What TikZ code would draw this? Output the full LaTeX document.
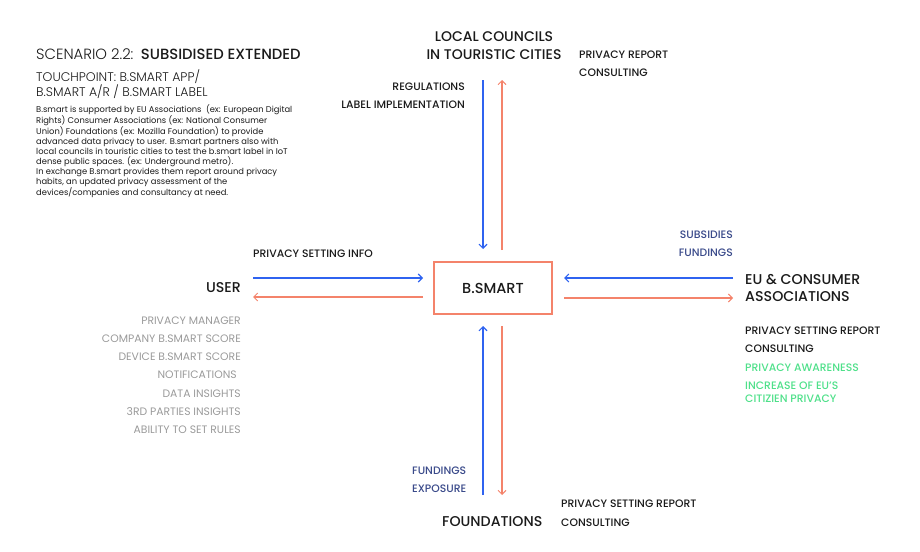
\documentclass[tikz,border=0pt]{standalone}
\usepackage{fontspec}
\setmainfont{Poppins}
\newfontfamily\pmed{Poppins Medium}
\newfontfamily\plight{Poppins Light}
\usetikzlibrary{arrows.meta}
\definecolor{cblue}{HTML}{2F63F0}
\definecolor{cred}{HTML}{F4836B}
\definecolor{cnavy}{HTML}{3A4A8A}
\definecolor{cgreen}{HTML}{4FE08A}
\definecolor{cgray}{HTML}{9A9A9A}
\definecolor{ctext}{HTML}{1A1A1A}
\tikzset{
  lbl/.style={inner sep=0pt, font=\pmed\fontsize{10.8}{12}\selectfont, text=ctext},
  head/.style={inner sep=0pt, font=\pmed\fontsize{14.2}{17}\selectfont, text=ctext},
  graylbl/.style={inner sep=0pt, font=\fontsize{10.8}{12}\selectfont, text=cgray, anchor=east},
  barr/.style={draw=cblue, line width=1.3pt, -{Straight Barb[length=4pt,width=8pt,line width=1.1pt]}},
  rarr/.style={draw=cred, line width=1.1pt, -{Straight Barb[length=4pt,width=8pt,line width=1pt]}},
}
\begin{document}
\begin{tikzpicture}[x=1pt,y=-1pt]
\useasboundingbox (0,0) rectangle (920,551);
% title block
\node[inner sep=0pt, anchor=west, text=ctext, font=\fontsize{14.8}{17}\selectfont] (title) at (36,54) {\plight SCENARIO 2.2:\enspace\pmed SUBSIDISED EXTENDED};
\node[inner sep=0pt, anchor=north west, align=left, text=ctext, font=\plight\fontsize{12.5}{15}\selectfont] (touch) at (36,69.5) {TOUCHPOINT: B.SMART APP/\\B.SMART A/R / B.SMART LABEL};
\node[inner sep=0pt, anchor=north west, align=left, text=ctext, font=\fontsize{8.35}{10}\selectfont] (para) at (36,104) {B.smart is supported by EU Associations\ \ (ex: European Digital\\Rights) Consumer Associations (ex: National Consumer\\Union) Foundations (ex: Mozilla Foundation) to provide\\advanced data privacy to user. B.smart partners also with\\local councils in touristic cities to test the b.smart label in IoT\\dense public spaces. (ex: Underground metro).\\In exchange B.smart provides them report around privacy\\habits, an updated privacy assessment of the\\devices/companies and consultancy at need.};
% central box
\node[draw=cred, line width=1.1pt, minimum width=118pt, minimum height=52pt, inner sep=0pt, font=\pmed\fontsize{14.5}{16}\selectfont, text=ctext] (bs) at (493,288) {B.SMART};
% top
\node[head, align=center, font=\pmed\fontsize{14}{18}\selectfont] (lc) at (494,46) {LOCAL COUNCILS\\IN TOURISTIC CITIES};
\node[lbl, anchor=west] (pr) at (579,55) {PRIVACY REPORT};
\node[lbl, anchor=west] (cons1) at (579,73) {CONSULTING};
\node[lbl, anchor=east] (reg) at (465,87) {REGULATIONS};
\node[lbl, anchor=east] (limp) at (465,105) {LABEL IMPLEMENTATION};
\coordinate (t1) at (483,80);
\coordinate (t2) at (502,80);
\coordinate (t1e) at (483,249);
\coordinate (t2e) at (502,250);
\draw[barr] (t1) -- (t1e);
\draw[rarr] (t2e) -- (t2);
% left
\node[head, anchor=east] (user) at (241,288) {USER};
\node[lbl, anchor=west] (psi) at (253,254) {PRIVACY SETTING INFO};
\coordinate (l1) at (253,278);
\coordinate (l2) at (253,297);
\coordinate (l1e) at (423,278);
\coordinate (l2e) at (423,297);
\draw[barr] (l1) -- (l1e);
\draw[rarr] (l2e) -- (l2);
\node[graylbl] (g1) at (241,321) {PRIVACY MANAGER};
\node[graylbl] (g2) at (241,339) {COMPANY B.SMART SCORE};
\node[graylbl] (g3) at (241,357) {DEVICE B.SMART SCORE};
\node[graylbl] (g4) at (237,375) {NOTIFICATIONS};
\node[graylbl] (g5) at (241,394) {DATA INSIGHTS};
\node[graylbl] (g6) at (241,412) {3RD PARTIES INSIGHTS};
\node[graylbl] (g7) at (241,430) {ABILITY TO SET RULES};
% right
\node[lbl, anchor=east, text=cnavy] (sub) at (733,235) {SUBSIDIES};
\node[lbl, anchor=east, text=cnavy] (fund1) at (733,253) {FUNDINGS};
\node[head, anchor=west, align=left] (eu) at (745,287.5) {EU \& CONSUMER\\ASSOCIATIONS};
\coordinate (r1) at (733,278);
\coordinate (r2) at (733,298);
\coordinate (r1e) at (564,278);
\coordinate (r2e) at (564,298);
\draw[barr] (r1) -- (r1e);
\draw[rarr] (r2e) -- (r2);
\node[lbl, anchor=west] (psr1) at (745,331) {PRIVACY SETTING REPORT};
\node[lbl, anchor=west] (cons2) at (745,349) {CONSULTING};
\node[lbl, anchor=west, text=cgreen] (pa) at (745,368) {PRIVACY AWARENESS};
\node[lbl, anchor=north west, align=left, text=cgreen, font=\pmed\fontsize{10.8}{13.5}\selectfont] (inc) at (745,381.5) {INCREASE OF EU’S\\CITIZIEN PRIVACY};
% bottom
\coordinate (b1) at (483,495);
\coordinate (b2) at (502,495);
\coordinate (b1e) at (483,326);
\coordinate (b2e) at (502,326);
\draw[barr] (b1) -- (b1e);
\draw[rarr] (b2e) -- (b2);
\node[lbl, anchor=west, text=cnavy] (fund2) at (412,471) {FUNDINGS};
\node[lbl, anchor=west, text=cnavy] (exp) at (412,489) {EXPOSURE};
\node[head, anchor=west] (found) at (442,522) {FOUNDATIONS};
\node[lbl, anchor=west] (psr2) at (561,504) {PRIVACY SETTING REPORT};
\node[lbl, anchor=west] (cons3) at (561,523) {CONSULTING};
\end{tikzpicture}
\end{document}
